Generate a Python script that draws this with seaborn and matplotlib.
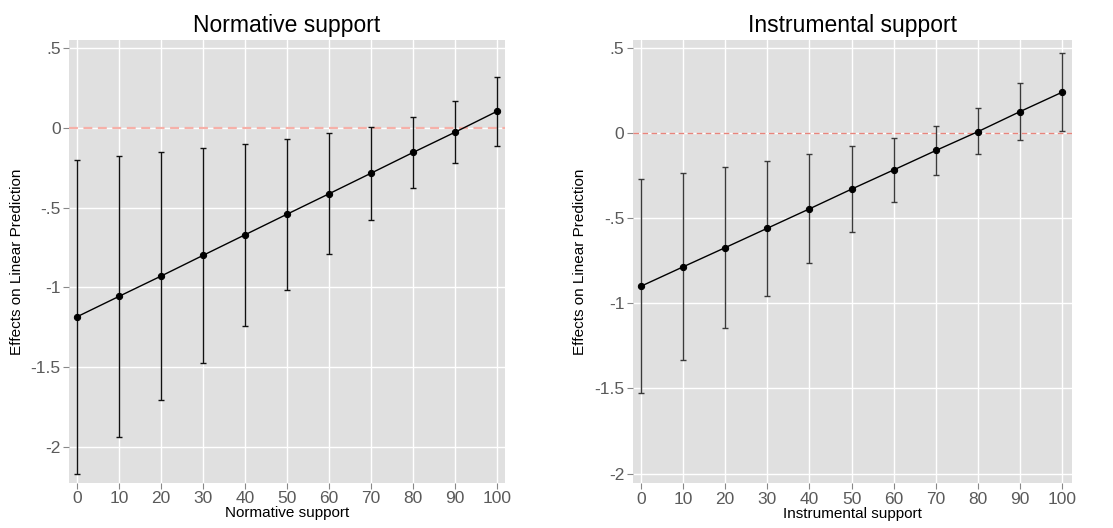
import numpy as np
import pandas as pd
import seaborn as sns
import matplotlib
matplotlib.use("Agg")
import matplotlib.pyplot as plt

# ---- data ----
support_levels = [0, 10, 20, 30, 40, 50, 60, 70, 80, 90, 100]

norm_effect = [-1.185, -1.057, -0.930, -0.800, -0.671, -0.542, -0.414, -0.285, -0.155, -0.028, 0.103]
norm_upper = [-0.203, -0.177, -0.152, -0.124, -0.099, -0.068, -0.033, 0.007, 0.068, 0.170, 0.320]
norm_lower = [-2.168, -1.936, -1.705, -1.473, -1.243, -1.016, -0.792, -0.577, -0.379, -0.222, -0.116]

inst_effect = [-0.900, -0.786, -0.673, -0.559, -0.445, -0.329, -0.216, -0.102, 0.009, 0.127, 0.241]
inst_upper = [-0.269, -0.235, -0.200, -0.161, -0.122, -0.076, -0.026, 0.039, 0.145, 0.292, 0.468]
inst_lower = [-1.529, -1.333, -1.143, -0.955, -0.765, -0.582, -0.404, -0.244, -0.120, -0.041, 0.014]

ytick_vals = [0.5, 0, -0.5, -1, -1.5, -2]
ytick_labels = [".5", "0", "-.5", "-1", "-1.5", "-2"]

titles = ["Normative support", "Instrumental support"]
xlabels = ["Normative support", "Instrumental support"]
ylabel = "Effects on Linear Prediction"

sns.set_theme(style="darkgrid")
plt.rcParams['font.family'] = ['Liberation Sans', 'DejaVu Sans']

fig = plt.figure(figsize=(11.13, 5.28), dpi=100)
ax1 = fig.add_axes([0.062, 0.0852, 0.3917, 0.839])
ax2 = fig.add_axes([0.5685, 0.0847, 0.3947, 0.8395])

panels = [
    (ax1, norm_effect, norm_upper, norm_lower, (-2.227, 0.55), (-1.9, 101.9), "#f6b0a8", 1.6, "#111111"),
    (ax2, inst_effect, inst_upper, inst_lower, (-2.057, 0.547), (-1.9, 102.3), "#e8857c", 1.0, "#3a3a3a"),
]

for i, (ax, eff, up, lo, ylim, xlim, refc, reflw, errc) in enumerate(panels):
    df = pd.DataFrame({"x": support_levels, "y": eff})
    ax.set_facecolor("#e0e0e0")
    ax.axhline(0, color=refc, lw=reflw, ls=(0, (4, 2.5)), zorder=1)
    eff_a = np.array(eff)
    yerr = np.vstack([eff_a - np.array(lo), np.array(up) - eff_a])
    ax.errorbar(support_levels, eff, yerr=yerr, fmt="none", ecolor=errc,
                elinewidth=1.0, capsize=2.5, capthick=1.0, zorder=2)
    sns.lineplot(data=df, x="x", y="y", ax=ax, color="black", lw=1.0,
                 marker="o", markersize=4.5, markeredgecolor="black", zorder=3)
    ax.set_xlim(*xlim)
    ax.set_ylim(*ylim)
    ax.set_xticks(support_levels)
    ax.set_xticklabels([str(v) for v in support_levels])
    ax.set_yticks(ytick_vals)
    ax.set_yticklabels(ytick_labels)
    ax.grid(True, color="white", lw=1.0)
    for s in ax.spines.values():
        s.set_visible(False)
    ax.tick_params(axis="both", which="major", length=4, width=0.8, color="#888888",
                   labelcolor="#5a5a5a", labelsize=12.5, pad=2, bottom=True, left=True)
    ax.set_title(titles[i], fontsize=16.5, color="black", pad=6)
    ax.set_xlabel(xlabels[i], fontsize=11, color="black", labelpad=0)
    ax.set_ylabel(ylabel, fontsize=11, color="black", labelpad=5)

fig.savefig("out.png", dpi=100, facecolor="white")
